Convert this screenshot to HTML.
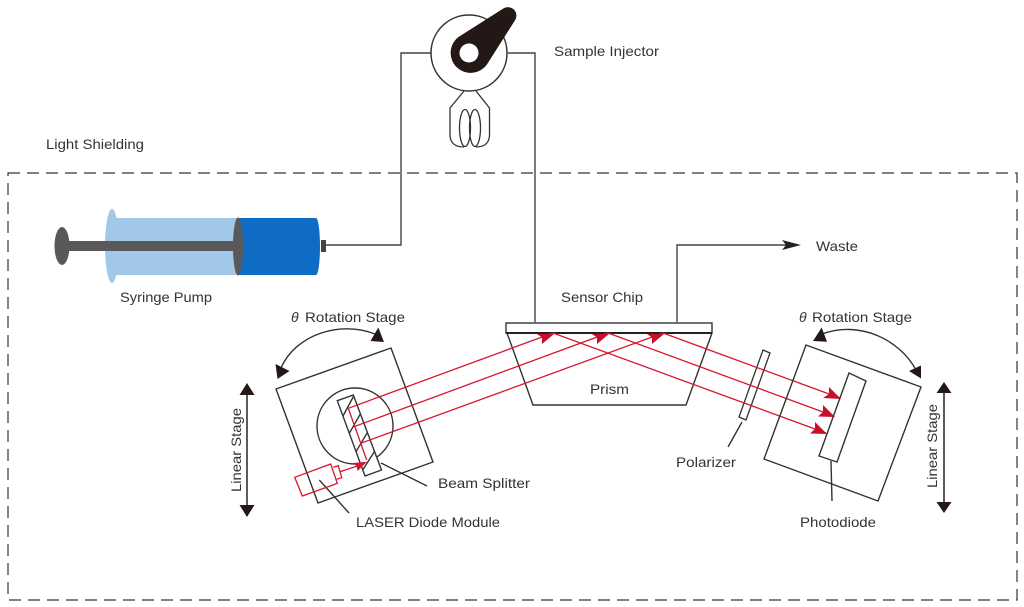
<!DOCTYPE html>
<html><head><meta charset="utf-8"><style>
html,body{margin:0;padding:0;background:#fff}
svg{display:block;filter:blur(.35px)}
text{font-family:"Liberation Sans",sans-serif;font-size:14px;fill:#333}
</style></head><body>
<svg width="1024" height="607" viewBox="0 0 1024 607" xmlns="http://www.w3.org/2000/svg">
<rect x="8" y="173" width="1009" height="427" fill="none" stroke="#333" stroke-width="1.2" stroke-dasharray="12 7"/>
<!-- tubes -->
<g fill="none" stroke="#444" stroke-width="1.4">
<path d="M431 53H401V245H322"/>
<path d="M508 53H535V322"/>
<path d="M677 322V245H790"/>
</g>
<path d="M782 240L801 245L782 250L786 245Z" fill="#222"/>
<!-- injector -->
<circle cx="469" cy="53" r="38" fill="#fff" stroke="#333" stroke-width="1.5"/>
<path d="M458.500 37L503.300 8.500A8.500 8.500 0 0 1 515.200 20L487 64.400A20 20 0 1 1 458.500 37Z" fill="#231815"/>
<circle cx="469" cy="53" r="9.500" fill="#fff"/>
<g fill="none" stroke="#333" stroke-width="1.3">
<path d="M464 91L450 108V136Q451 147 464 147"/>
<path d="M476 91L489.500 108V136Q488.500 147 476 147"/>
<ellipse cx="465" cy="128" rx="5.500" ry="18.500"/>
<ellipse cx="475" cy="128" rx="5.500" ry="18.500"/>
</g>
<!-- syringe -->
<ellipse cx="112" cy="246" rx="7" ry="37" fill="#a2c8e9"/>
<rect x="112" y="218" width="126" height="57" fill="#a2c8e9"/>
<rect x="238" y="218" width="78" height="57" fill="#0f6cc4"/>
<ellipse cx="316" cy="246.500" rx="4" ry="28.500" fill="#0f6cc4"/>
<rect x="321" y="240" width="5" height="12" fill="#444"/>
<rect x="62" y="241" width="176" height="10" fill="#595959"/>
<ellipse cx="62" cy="246" rx="7.500" ry="19" fill="#595959"/>
<ellipse cx="238" cy="246.500" rx="5" ry="29" fill="#595959"/>
<!-- left stage -->
<g fill="none" stroke="#333" stroke-width="1.4">
<path d="M276 389L391 348L433 462L318 503Z"/>
<circle cx="355" cy="426" r="38"/>
<path d="M337.300 400.700L353.300 395L381.500 470L365 476Z" fill="#fff"/>
<path d="M343 416L353.700 396M349.300 433.300L360.300 414M356 451.700L367.300 432.700M362.700 470L374.300 451.700"/>
<path d="M381 463L427 486M319.300 480L349 513"/>
<path d="M281 368C295 335 340 320 375 334"/>
<path d="M822 334C860 320 900 340 916 370"/>
<path d="M247 393V507M944 392V503" stroke-width="1.600"/>
</g>
<path d="M275.500 364L289.500 371L277.500 379Z M370.500 341L378.300 327.500L384 342Z" fill="#231815"/>
<path d="M813 341L821.700 327.500L827 341.700Z M909 371L921 365.500L921 378.500Z" fill="#231815"/>
<path d="M247 383L254.500 395H239.500Z M247 517L254.500 505H239.500Z M944 382L951.500 393H936.500Z M944 513L951.500 502H936.500Z" fill="#231815"/>
<!-- laser -->
<g fill="none" stroke="#d7152f" stroke-width="1.300">
<path d="M294.700 477.300L330.700 464L337.300 483.300L302.300 496Z"/>
<path d="M333.300 467.300L338.300 465.700L341.700 477.700L336.700 479.300"/>
<path d="M340 471.700L363.300 464M348.300 408.300L366.700 460"/>
</g>
<path d="M367 461.700L353 463L356.500 466L357.500 471Z" fill="#d7152f"/>
<!-- prism -->
<path d="M507 333L533 405H686L712 333" fill="none" stroke="#333" stroke-width="1.4"/>
<rect x="506" y="323" width="206" height="10" fill="#fff" stroke="#333" stroke-width="1.4"/>
<line x1="506" y1="333" x2="712" y2="333" stroke="#222" stroke-width="2"/>
<!-- polarizer -->
<path d="M763 350L770 353L746 420L739 417Z" fill="none" stroke="#333" stroke-width="1.3"/>
<!-- rays -->
<g fill="none" stroke="#d7152f" stroke-width="1.300">
<path d="M348.300 408.300L553 333M354 426.700L608 333M360.700 443.300L663 333"/>
<path d="M553 333L826 433M608 333L834 416M663 333L840 398"/>
</g>
<g fill="#c90f28">
<path d="M554 334H537L542 337.500L542 344Z M609 334H592L597 337.500L597 344Z M664 334H647L652 337.500L652 344Z"/>
<path d="M827 434L810 433.500L815 429L815 422Z M835 417L818 416.500L823 412L823 405Z M841 399L823 398L829 394L829 387Z"/>
</g>
<!-- right stage -->
<g fill="none" stroke="#333" stroke-width="1.4">
<path d="M806 345L921 387L878 501L764 459Z"/>
<path d="M849 373L866 381L837 462L819 456Z"/>
<path d="M742 422L728 447M831 461L832 501"/>
</g>
<!-- labels -->
<text x="554" y="56" textLength="105" lengthAdjust="spacingAndGlyphs">Sample Injector</text>
<text x="46" y="149" textLength="98" lengthAdjust="spacingAndGlyphs">Light Shielding</text>
<text x="120" y="302" textLength="92" lengthAdjust="spacingAndGlyphs">Syringe Pump</text>
<text x="291" y="322" font-style="italic">θ</text>
<text x="305" y="322" textLength="100" lengthAdjust="spacingAndGlyphs">Rotation Stage</text>
<text x="799" y="322" font-style="italic">θ</text>
<text x="812" y="322" textLength="100" lengthAdjust="spacingAndGlyphs">Rotation Stage</text>
<text x="561" y="302" textLength="82" lengthAdjust="spacingAndGlyphs">Sensor Chip</text>
<text x="816" y="251" textLength="42" lengthAdjust="spacingAndGlyphs">Waste</text>
<text x="590" y="394" textLength="39" lengthAdjust="spacingAndGlyphs">Prism</text>
<text x="676" y="467" textLength="60" lengthAdjust="spacingAndGlyphs">Polarizer</text>
<text x="438" y="488" textLength="92" lengthAdjust="spacingAndGlyphs">Beam Splitter</text>
<text x="356" y="527" textLength="144" lengthAdjust="spacingAndGlyphs">LASER Diode Module</text>
<text x="800" y="527" textLength="76" lengthAdjust="spacingAndGlyphs">Photodiode</text>
<text transform="translate(241 492) rotate(-90)" textLength="84" lengthAdjust="spacingAndGlyphs">Linear Stage</text>
<text transform="translate(937 488) rotate(-90)" textLength="84" lengthAdjust="spacingAndGlyphs">Linear Stage</text>
</svg>
</body></html>
